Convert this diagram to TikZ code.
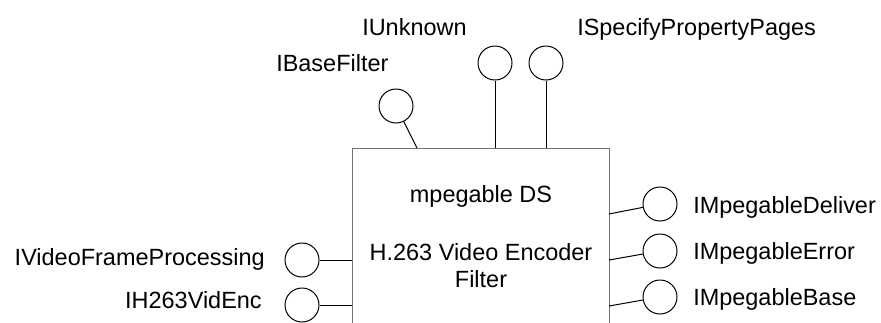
\documentclass[tikz,border=0pt]{standalone}
\usepackage{fontspec}
\setmainfont{Liberation Sans}
\begin{document}
\begin{tikzpicture}[x=0.75pt, y=-0.75pt, font=\fontsize{17.6pt}{21pt}\selectfont, iface/.style={circle,draw,line width=0.75pt,minimum size=34*0.75pt,inner sep=0pt}, filterbox/.style={draw=black!55,line width=1pt,minimum width=257*0.75pt,minimum height=230*0.75pt,inner sep=0pt}, txt/.style={inner sep=0pt}]
      \useasboundingbox (0, 0) rectangle (881, 322);
      \clip (0, 0) rectangle (881, 322);
      \node[filterbox, anchor=north west] (filter) at (352, 148) {};

      \node[txt, anchor=base] (name) at (481, 202) {mpegable DS};
      \node[txt, anchor=base] (desc1) at (481, 260) {H.263 Video Encoder};
      \node[txt, anchor=base] (desc2) at (481, 287) {Filter};

      \node[iface] (base) at (396, 106) {};
      \node[iface] (unknown) at (495, 63) {};
      \node[iface] (specify) at (546, 63) {};
      \node[iface] (deliver) at (660, 204) {};
      \node[iface] (error) at (660, 251) {};
      \node[iface] (mpbase) at (660, 297) {};
      \node[iface] (vfp) at (302, 260) {};
      \node[iface] (videnc) at (302, 305) {};

      \node[txt, anchor=base west] (lbase) at (276, 71) {IBaseFilter};
      \node[txt, anchor=base west] (lunknown) at (362, 35) {IUnknown};
      \node[txt, anchor=base west] (lspecify) at (577, 35) {ISpecifyPropertyPages};
      \node[txt, anchor=base west] (ldeliver) at (693, 213) {IMpegableDeliver};
      \node[txt, anchor=base west] (lerror) at (693, 259) {IMpegableError};
      \node[txt, anchor=base west] (lmpbase) at (693, 305) {IMpegableBase};
      \node[txt, anchor=base east] (lvfp) at (265, 265) {IVideoFrameProcessing};
      \node[txt, anchor=base east] (lvidenc) at (262, 308) {IH263VidEnc};

      \coordinate (pbase) at (417, 148);
      \coordinate (punknown) at (495, 148);
      \coordinate (pspecify) at (546, 148);
      \coordinate (pdeliver) at (609, 214);
      \coordinate (perror) at (609, 260);
      \coordinate (pmpbase) at (609, 306);
      \coordinate (pvfp) at (352, 260);
      \coordinate (pvidenc) at (352, 305);

      \draw[line width=0.75pt] (base) -- (pbase);
      \draw[line width=0.75pt] (unknown) -- (punknown);
      \draw[line width=0.75pt] (specify) -- (pspecify);
      \draw[line width=0.75pt] (deliver) -- (pdeliver);
      \draw[line width=0.75pt] (error) -- (perror);
      \draw[line width=0.75pt] (mpbase) -- (pmpbase);
      \draw[line width=0.75pt] (vfp) -- (pvfp);
      \draw[line width=0.75pt] (videnc) -- (pvidenc);
    \end{tikzpicture}
\end{document}
